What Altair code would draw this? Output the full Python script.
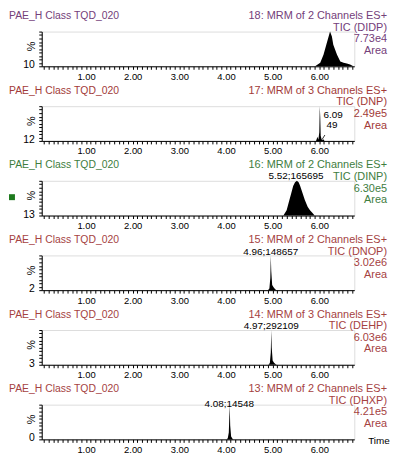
import altair as alt
import pandas as pd

FONT = "Liberation Sans"

# ---- panel header data ----
sample_names = ["PAE_H Class TQD_020"] * 6
functions = [
    "18: MRM of 2 Channels ES+",
    "17: MRM of 3 Channels ES+",
    "16: MRM of 2 Channels ES+",
    "15: MRM of 2 Channels ES+",
    "14: MRM of 3 Channels ES+",
    "13: MRM of 2 Channels ES+",
]
tic_names = ["TIC (DIDP)", "TIC (DNP)", "TIC (DINP)", "TIC (DNOP)", "TIC (DEHP)", "TIC (DHXP)"]
intensities = ["7.73e4", "2.49e5", "6.30e5", "3.02e6", "6.03e6", "4.21e5"]
baseline_offsets = ["10", "12", "13", "2", "3", "0"]
panel_colors = ["#74407a", "#a23a38", "#3e7d3e", "#a5423f", "#a5423f", "#a5423f"]

# ---- chromatogram traces (time min, % of max) ----
t1 = [5.91, 6.02, 6.09, 6.15, 6.20, 6.23, 6.27, 6.30, 6.38, 6.45, 6.52, 6.59, 6.66, 6.73]
p1 = [0, 10, 33, 62, 86, 100, 86, 62, 33, 14, 10, 8, 5, 0]

t2 = [5.93, 5.96, 5.98, 6.00, 6.01, 6.02, 6.03, 6.05, 6.07, 6.09, 6.11]
p2 = [0, 12, 3, 25, 100, 70, 15, 4, 2, 5, 0]

t3 = [5.23, 5.30, 5.34, 5.40, 5.44, 5.48, 5.52, 5.56, 5.59, 5.64, 5.69, 5.75, 5.80, 5.85, 5.90]
p3 = [0, 15, 35, 65, 85, 96, 100, 95, 85, 65, 45, 25, 15, 8, 0]

t4 = [4.90, 4.93, 4.95, 4.96, 4.97, 4.99, 5.02, 5.05, 5.08]
p4 = [0, 5, 35, 100, 55, 15, 8, 3, 0]

t5 = [4.91, 4.94, 4.96, 4.97, 4.98, 5.00, 5.03, 5.06, 5.09]
p5 = [0, 5, 35, 100, 50, 12, 6, 2, 0]

t6 = [4.02, 4.04, 4.06, 4.08, 4.09, 4.11, 4.14, 4.16]
p6 = [0, 5, 20, 100, 40, 8, 2, 0]

times = [t1, t2, t3, t4, t5, t6]
pcts = [p1, p2, p3, p4, p5, p6]

# ---- peak labels ----
ann_panel = [1, 1, 2, 3, 4, 5]
ann_time = [6.09, 6.09, 5.50, 4.96, 4.97, 4.07]
ann_pct = [67, 37, 104, 102, 102, 94]
ann_text = ["6.09", "49", "5.52;165695", "4.96;148657", "4.97;292109", "4.08;14548"]
ann_align = ["left", "left", "center", "center", "center", "center"]
ann_dx = [0, 3, 0, 0, 0, 0]

X_DOMAIN = [0.05, 6.75]
tick_values = [round(i * 0.1, 1) for i in range(1, 68)]

W, H = 315, 35


def txt(s, x, y, color, align="left", baseline="alphabetic", angle=0, size=11):
    return alt.Chart(pd.DataFrame({"s": [s]})).mark_text(
        font=FONT, fontSize=size, color=color, align=align, baseline=baseline, angle=angle
    ).encode(text="s:N", x=alt.value(x), y=alt.value(y))


def panel(i):
    col = panel_colors[i]
    df = pd.DataFrame({"t": times[i], "p": pcts[i]})
    xaxis = alt.Axis(
        values=tick_values,
        labelExpr="abs(datum.value - round(datum.value)) < 0.001 ? format(datum.value, '.2f') : ''",
        tickSize=3, tickColor="black", domainColor="black", labelColor="black",
        labelFont=FONT, labelFontSize=9.5, labelPadding=2, grid=False,
        labelOverlap=False, labelFlush=False, labelBound=False, title=None,
    )
    yaxis = alt.Axis(
        values=list(range(0, 101, 10)), labels=False, tickSize=3, tickColor="black",
        domainColor="black", grid=False, title=None,
    )
    xs = alt.Scale(domain=X_DOMAIN, nice=False, zero=False)
    ys = alt.Scale(domain=[0, 100], nice=False)
    area = alt.Chart(df).mark_area(color="black", interpolate="linear").encode(
        x=alt.X("t:Q", scale=xs, axis=xaxis),
        y=alt.Y("p:Q", scale=ys, axis=yaxis),
    )
    layers = [area]
    layers.append(txt(sample_names[i], -33, -12.5, col, size=10.5))
    for k, s in enumerate([functions[i], tic_names[i], intensities[i], "Area"]):
        layers.append(txt(s, 348, -12.5 + 11.7 * k, col, align="right"))
    layers.append(txt("%", -10, 15, "black", align="center", baseline="middle", angle=270, size=11))
    layers.append(txt(baseline_offsets[i], -7, 34, "black", align="right", baseline="middle", size=10.5))
    if i == 2:
        sq = alt.Chart(pd.DataFrame({"a": [1]})).mark_square(
            color="#1e7a1e", size=36, opacity=1
        ).encode(x=alt.value(-30), y=alt.value(16.5))
        layers.append(sq)
    if i == 5:
        layers.append(txt("Time", 329, 36.5, "black", baseline="middle", size=10))
    idx = [k for k, pnl in enumerate(ann_panel) if pnl == i]
    for k in idx:
        adf = pd.DataFrame({"t": [ann_time[k]], "p": [ann_pct[k]], "s": [ann_text[k]]})
        layers.append(
            alt.Chart(adf).mark_text(
                font=FONT, fontSize=10, color="black", align=ann_align[k],
                baseline="alphabetic", dx=ann_dx[k]
            ).encode(
                x=alt.X("t:Q", scale=xs, axis=xaxis),
                y=alt.Y("p:Q", scale=ys, axis=yaxis),
                text="s:N",
            )
        )
    if i == 1:
        ldf = pd.DataFrame({"t": [6.12], "t2": [6.055], "p": [17], "p2": [3]})
        layers.append(
            alt.Chart(ldf).mark_rule(color="black", strokeWidth=0.8).encode(
                x=alt.X("t:Q", scale=xs, axis=xaxis), x2="t2:Q",
                y=alt.Y("p:Q", scale=ys, axis=yaxis), y2="p2:Q",
            )
        )
    return alt.layer(*layers).properties(width=W, height=H)


chart = alt.vconcat(*[panel(i) for i in range(6)], spacing=40.2, bounds="flush").properties(
    padding={"left": 0, "top": 0, "right": 0, "bottom": 0}
).configure_view(stroke=None).configure(font=FONT)

chart.save("out.html", embed_options={"renderer": "svg", "actions": False})
